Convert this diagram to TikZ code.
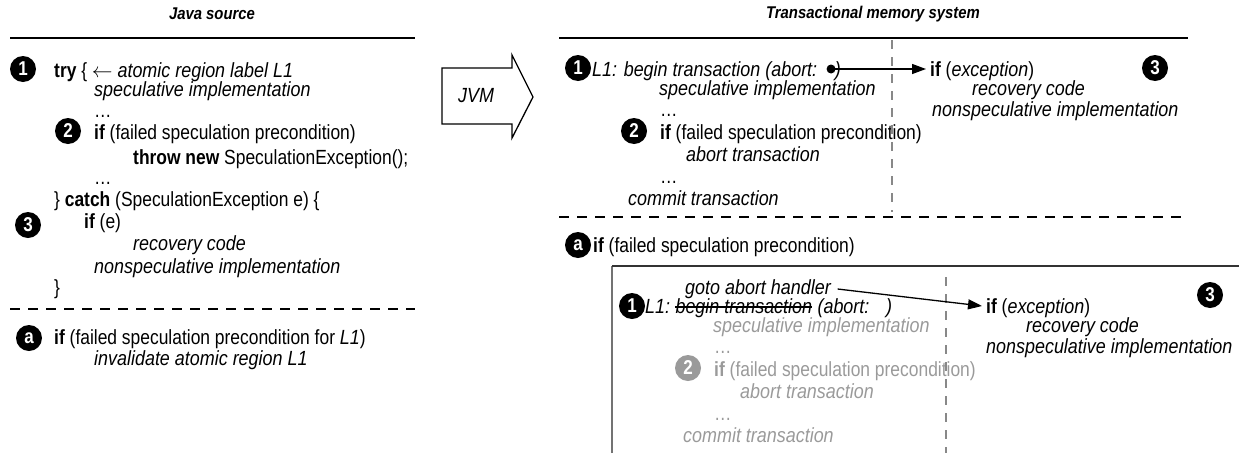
\documentclass[tikz,border=0pt]{standalone}
\usepackage{fontspec}
\setmainfont{Liberation Sans}[FakeStretch=0.85,ItalicFeatures={FakeStretch=0.875},BoldItalicFeatures={FakeStretch=0.875}]
\usetikzlibrary{arrows.meta,calc}
\definecolor{tgray}{HTML}{9A9A9A}
\definecolor{dgray}{HTML}{888888}
\begin{document}
\begin{tikzpicture}[x=1pt,y=1pt,
  txt/.style={anchor=base west,inner sep=0pt,font=\fontsize{20.5}{24}\selectfont},
  gtxt/.style={txt,text=tgray},
  ttl/.style={inner sep=0pt,font=\fontsize{17}{20}\selectfont\bfseries\itshape},
  num/.style={circle,fill=black,text=white,inner sep=0pt,minimum size=26pt,font=\fontsize{20}{20}\selectfont\bfseries},
  gnum/.style={num,fill=tgray},
  rulel/.style={line width=1.4pt},
  hdash/.style={line width=1.2pt,dash pattern=on 10pt off 8pt},
  vdash/.style={line width=1.2pt,draw=dgray,dash pattern=on 9pt off 8pt},
  arr/.style={line width=1.3pt,-{Triangle[length=14pt,width=10pt]}},
  dotst/.style={circle,fill=black,inner sep=0pt,minimum size=9pt},
  jvmbox/.style={line width=1.3pt,line join=miter}
]
\useasboundingbox (0,0) rectangle (1239,-453);

% ---------------- left panel: Java source
\node[ttl] (jtitle) at (212,-14) {Java source};
\draw[rulel] (10,-38) -- (415,-38);

\node[num] (jc1) at (23,-69) {1};
\node[txt] (j1) at (54,-77) {\textbf{try} \{ $\leftarrow$ \textit{atomic region label L1}};
\node[txt] (j2) at (94,-96) {\textit{speculative implementation}};
\node[txt] (j3) at (94,-117) {…};
\node[num] (jc2) at (68,-131) {2};
\node[txt] (j4) at (94,-139) {\textbf{if} (failed speculation precondition)};
\node[txt] (j5) at (133,-164) {\textbf{throw new} SpeculationException();};
\node[txt] (j6) at (94,-184) {…};
\node[txt] (j7) at (54,-206) {\} \textbf{catch} (SpeculationException e) \{};
\node[num] (jc3) at (28,-225) {3};
\node[txt] (j8) at (84,-228) {\textbf{if} (e)};
\node[txt] (j9) at (133,-250) {\textit{recovery code}};
\node[txt] (j10) at (94,-273) {\textit{nonspeculative implementation}};
\node[txt] (j11) at (54,-294) {\}};
\draw[hdash] (10,-309) -- (415,-309);
\node[num] (jca) at (29,-338) {a};
\node[txt] (j12) at (54,-344) {\textbf{if} (failed speculation precondition for \textit{L1})};
\node[txt] (j13) at (94,-365) {\textit{invalidate atomic region L1}};

% ---------------- JVM arrow
\draw[jvmbox] (442,-68) -- (512,-68) -- (512,-55) -- (533,-97) -- (512,-138) -- (512,-124) -- (442,-124) -- cycle;
\node[txt,anchor=center] (jvm) at (476,-96) {\textit{JVM}};

% ---------------- right upper panel
\node[ttl] (ttitle) at (873,-14) {Transactional memory system};
\draw[rulel] (559,-38) -- (1188,-38);

\node[num] (uc1) at (578,-68) {1};
\node[txt] (u1) at (592,-76) {\textit{L1: begin transaction (abort: \hspace*{11pt})}};
\node[dotst] (udot) at ($(u1.base east)+(-10pt,7pt)$) {};
\node[txt] (u2) at (659,-95) {\textit{speculative implementation}};
\node[txt] (u3) at (660,-116) {…};
\node[num] (uc2) at (634,-131) {2};
\node[txt] (u4) at (660,-139) {\textbf{if} (failed speculation precondition)};
\node[txt] (u5) at (686,-161) {\textit{abort transaction}};
\node[txt] (u6) at (660,-183) {…};
\node[txt] (u7) at (628,-205) {\textit{commit transaction}};
\draw[vdash] (892,-40) -- (892,-212);
\draw[hdash] (559,-217) -- (1188,-217);

\node[txt] (uexc) at (930,-76) {\textbf{if} (\textit{exception})};
\node[txt] (urec) at (972,-95) {\textit{recovery code}};
\node[txt] (unon) at (932,-116) {\textit{nonspeculative implementation}};
\node[num] (uc3) at (1155,-68) {3};
\coordinate (uend) at ($(uexc.base west)+(-4pt,7pt)$);
\draw[arr] (udot.center) -- (uend);

% ---------------- right lower panel
\node[num] (lca) at (578,-245) {a};
\node[txt] (la) at (593,-252) {\textbf{if} (failed speculation precondition)};
\draw[line width=1.3pt,draw=black!55] (612,-453) -- (612,-266);
\draw[line width=1.3pt,draw=black!80] (612,-266) -- (1239,-266);

\node[txt] (lgoto) at (685,-294) {\textit{goto abort handler}};
\node[num] (lc1) at (632,-306) {1};
\node[txt] (l1a) at (645,-313) {\textit{L1:}};
\node[txt] (l1b) at ($(l1a.base east)+(5pt,0pt)$) {\textit{begin transaction}};
\node[txt] (l1c) at ($(l1b.base east)+(5pt,0pt)$) {\textit{(abort: \hspace*{10pt})}};
\draw[line width=1.2pt] ($(l1b.base west)+(0pt,6pt)$) -- ($(l1b.base east)+(0pt,6pt)$);
\node[gtxt] (l2) at (713,-332) {\textit{speculative implementation}};
\node[gtxt] (l3) at (714,-353) {…};
\node[gnum] (lc2) at (688,-368) {2};
\node[gtxt] (l4) at (714,-376) {\textbf{if} (failed speculation precondition)};
\node[gtxt] (l5) at (740,-398) {\textit{abort transaction}};
\node[gtxt] (l6) at (714,-420) {…};
\node[gtxt] (l7) at (683,-442) {\textit{commit transaction}};
\draw[vdash] (946,-277) -- (946,-453);

\node[txt] (lexc) at (986,-313) {\textbf{if} (\textit{exception})};
\node[txt] (lrec) at (1026,-332) {\textit{recovery code}};
\node[txt] (lnon) at (986,-353) {\textit{nonspeculative implementation}};
\node[num] (lc3) at (1210,-295) {3};
\coordinate (lstart) at ($(lgoto.base east)+(6pt,5pt)$);
\coordinate (lend) at ($(lexc.base west)+(-4pt,7pt)$);
\draw[arr] (lstart) -- (lend);
\end{tikzpicture}
\end{document}
